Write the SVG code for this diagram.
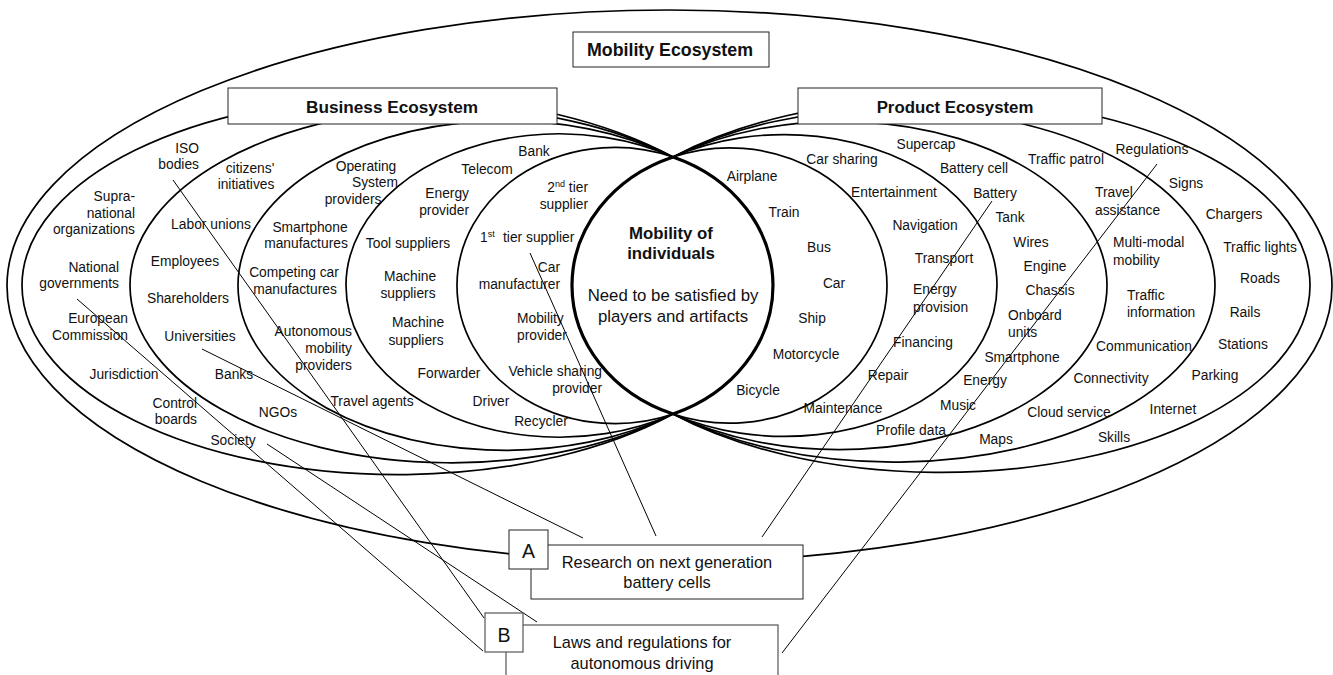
<svg xmlns="http://www.w3.org/2000/svg" width="1333" height="675" viewBox="0 0 1333 675">
  <style>
    .ring { fill: none; stroke: #000; stroke-width: 1.7; }
    .lens { fill: none; stroke: #000; stroke-width: 3.2; }
    .frame { fill: #fff; stroke: #222; stroke-width: 1; }
    .frame-b { fill: #fff; stroke: #555; stroke-width: 1.2; }
    .link { stroke: #000; stroke-width: 1; fill: none; }
    text { font-family: "Liberation Sans", Arial, sans-serif; fill: #111; }
    .t { font-size: 13.8px; }
    .m { text-anchor: middle; }
    .e { text-anchor: end; }
    .title { font-weight: bold; text-anchor: middle; }
    .core { font-size: 16.8px; text-anchor: middle; }
    .sup { font-size: 9px; }
    .tag { font-size: 19.5px; text-anchor: middle; }
    .note { font-size: 16.4px; text-anchor: middle; }
  </style>

  <!-- outer ring: whole mobility ecosystem -->
  <g id="mobility-ecosystem">
    <ellipse class="ring" cx="669.5" cy="286" rx="662.5" ry="276"/>
  </g>

  <!-- business rings: left-hand arcs meet at the two lens tips -->
  <g id="business-rings">
    <path class="ring" d="M673,157 A375.5,189.11 0 1 0 673,414"/>
    <path class="ring" d="M673,157 A321.5,177.29 0 1 0 673,414"/>
    <path class="ring" d="M673,157 A267.5,164.81 0 1 0 673,414"/>
    <path class="ring" d="M673,157 A213.5,151.72 0 1 0 673,414"/>
    <path class="ring" d="M673,157 A158,138.15 0 1 0 673,414"/>
  </g>

  <!-- product rings: right-hand arcs -->
  <g id="product-rings">
    <path class="ring" d="M673,157 A157.5,137.66 0 1 1 673,414"/>
    <path class="ring" d="M673,157 A212.5,150.95 0 1 1 673,414"/>
    <path class="ring" d="M673,157 A267.5,164.18 0 1 1 673,414"/>
    <path class="ring" d="M673,157 A321.5,176.57 0 1 1 673,414"/>
    <path class="ring" d="M673,157 A369,186.94 0 1 1 673,414"/>
  </g>

  <!-- shared lens in the middle -->
  <g id="core">
    <path class="lens" d="M673,157 A158,138.15 0 0 1 673,414"/>
    <path class="lens" d="M673,157 A157.5,137.66 0 0 0 673,414"/>
    <text class="core" x="671" y="239" font-weight="bold">Mobility of</text>
    <text class="core" x="671" y="259" font-weight="bold">individuals</text>
    <text class="core" x="673" y="301">Need to be satisfied by</text>
    <text class="core" x="673" y="322">players and artifacts</text>
  </g>

  <!-- title boxes -->
  <g id="mobility-title">
    <rect class="frame" x="573" y="32" width="196" height="35"/>
    <text class="title" x="670" y="56" font-size="17.8px">Mobility Ecosystem</text>
  </g>
  <g id="business-title">
    <rect class="frame" x="228" y="88" width="329" height="36"/>
    <text class="title" x="392" y="113" font-size="17.2px">Business Ecosystem</text>
  </g>
  <g id="product-title">
    <rect class="frame" x="798" y="88" width="304" height="36"/>
    <text class="title" x="955" y="113" font-size="16.8px">Product Ecosystem</text>
  </g>

  <!-- business ring 5 -->
  <g id="business-ring-5" class="t">
    <text class="e" x="199" y="153">ISO</text>
    <text class="e" x="199" y="169">bodies</text>
    <text class="e" x="135" y="201">Supra-</text>
    <text class="e" x="135" y="218">national</text>
    <text class="e" x="135" y="234">organizations</text>
    <text class="e" x="119" y="272">National</text>
    <text class="e" x="119" y="288">governments</text>
    <text class="e" x="128" y="323">European</text>
    <text class="e" x="128" y="340">Commission</text>
    <text class="m" x="124" y="379">Jurisdiction</text>
    <text class="e" x="197" y="408">Control</text>
    <text class="e" x="197" y="424">boards</text>
    <text class="m" x="233" y="445">Society</text>
  </g>

  <!-- business ring 4 -->
  <g id="business-ring-4" class="t">
    <text class="m" x="250" y="173">citizens'</text>
    <text class="m" x="246" y="189">initiatives</text>
    <text class="m" x="211" y="229">Labor unions</text>
    <text class="m" x="185" y="266">Employees</text>
    <text class="m" x="188" y="303">Shareholders</text>
    <text class="m" x="200" y="341">Universities</text>
    <text class="m" x="234" y="379">Banks</text>
    <text class="m" x="278" y="417">NGOs</text>
  </g>

  <!-- business ring 3 -->
  <g id="business-ring-3" class="t">
    <text class="m" x="366" y="171">Operating</text>
    <text class="m" x="375" y="187">System</text>
    <text class="m" x="353" y="204">providers</text>
    <text class="m" x="310" y="232">Smartphone</text>
    <text class="m" x="306" y="248">manufactures</text>
    <text class="m" x="294" y="277">Competing car</text>
    <text class="m" x="295" y="294">manufactures</text>
    <text class="e" x="352" y="336">Autonomous</text>
    <text class="e" x="352" y="353">mobility</text>
    <text class="e" x="352" y="370">providers</text>
    <text class="m" x="372" y="406">Travel agents</text>
  </g>

  <!-- business ring 2 -->
  <g id="business-ring-2" class="t">
    <text class="m" x="534" y="156">Bank</text>
    <text class="m" x="487" y="174">Telecom</text>
    <text class="e" x="469" y="198">Energy</text>
    <text class="e" x="469" y="215">provider</text>
    <text class="m" x="408" y="248">Tool suppliers</text>
    <text class="m" x="410" y="281">Machine</text>
    <text class="m" x="408" y="298">suppliers</text>
    <text class="m" x="418" y="327">Machine</text>
    <text class="m" x="416" y="345">suppliers</text>
    <text class="m" x="449" y="378">Forwarder</text>
    <text class="m" x="491" y="406">Driver</text>
    <text class="m" x="541" y="426">Recycler</text>
  </g>

  <!-- business ring 1 -->
  <g id="business-ring-1" class="t">
    <text class="e" x="588" y="192">2<tspan class="sup" dy="-5">nd</tspan><tspan dy="5"> tier</tspan></text>
    <text class="e" x="588" y="209">supplier</text>
    <text x="480" y="242">1<tspan class="sup" dy="-5">st</tspan><tspan dy="5" x="503">tier supplier</tspan></text>
    <text class="e" x="560" y="272">Car</text>
    <text class="e" x="560" y="289">manufacturer</text>
    <text x="517" y="323">Mobility</text>
    <text x="517" y="340">provider</text>
    <text class="e" x="602" y="376">Vehicle sharing</text>
    <text class="e" x="602" y="393">provider</text>
  </g>

  <!-- product ring 1 -->
  <g id="product-ring-1" class="t">
    <text class="m" x="752" y="181">Airplane</text>
    <text class="m" x="784" y="217">Train</text>
    <text class="m" x="819" y="252">Bus</text>
    <text class="m" x="834" y="288">Car</text>
    <text class="m" x="812" y="323">Ship</text>
    <text class="m" x="806" y="359">Motorcycle</text>
    <text class="m" x="758" y="395">Bicycle</text>
  </g>

  <!-- product ring 2 -->
  <g id="product-ring-2" class="t">
    <text class="m" x="842" y="164">Car sharing</text>
    <text class="m" x="894" y="197">Entertainment</text>
    <text class="m" x="925" y="230">Navigation</text>
    <text class="m" x="944" y="263">Transport</text>
    <text x="913" y="294">Energy</text>
    <text x="913" y="312">provision</text>
    <text class="m" x="923" y="347">Financing</text>
    <text class="m" x="888" y="380">Repair</text>
    <text class="m" x="843" y="413">Maintenance</text>
  </g>

  <!-- product ring 3 -->
  <g id="product-ring-3" class="t">
    <text class="m" x="926" y="149">Supercap</text>
    <text class="m" x="974" y="173">Battery cell</text>
    <text class="m" x="995" y="198">Battery</text>
    <text class="m" x="1010" y="222">Tank</text>
    <text class="m" x="1031" y="247">Wires</text>
    <text class="m" x="1045" y="271">Engine</text>
    <text class="m" x="1050" y="295">Chassis</text>
    <text x="1008" y="320">Onboard</text>
    <text x="1008" y="337">units</text>
    <text class="m" x="1022" y="362">Smartphone</text>
    <text class="m" x="985" y="385">Energy</text>
    <text class="m" x="958" y="410">Music</text>
    <text class="m" x="911" y="435">Profile data</text>
  </g>

  <!-- product ring 4 -->
  <g id="product-ring-4" class="t">
    <text class="m" x="1066" y="164">Traffic patrol</text>
    <text x="1095" y="197">Travel</text>
    <text x="1095" y="215">assistance</text>
    <text x="1113" y="247">Multi-modal</text>
    <text x="1113" y="265">mobility</text>
    <text x="1127" y="300">Traffic</text>
    <text x="1127" y="317">information</text>
    <text class="m" x="1144" y="351">Communication</text>
    <text class="m" x="1111" y="383">Connectivity</text>
    <text class="m" x="1069" y="417">Cloud service</text>
    <text class="m" x="996" y="444">Maps</text>
  </g>

  <!-- product ring 5 -->
  <g id="product-ring-5" class="t">
    <text class="m" x="1152" y="154">Regulations</text>
    <text class="m" x="1186" y="188">Signs</text>
    <text class="m" x="1234" y="219">Chargers</text>
    <text class="m" x="1260" y="252">Traffic lights</text>
    <text class="m" x="1260" y="283">Roads</text>
    <text class="m" x="1245" y="317">Rails</text>
    <text class="m" x="1243" y="349">Stations</text>
    <text class="m" x="1215" y="380">Parking</text>
    <text class="m" x="1173" y="414">Internet</text>
    <text class="m" x="1114" y="442">Skills</text>
  </g>

  <!-- connectors from items to the two example cases -->
  <g id="connectors">
    <line class="link" x1="173" y1="180" x2="484" y2="618"/>
    <line class="link" x1="77" y1="299" x2="483" y2="651"/>
    <line class="link" x1="202" y1="349" x2="583" y2="538"/>
    <line class="link" x1="267" y1="444" x2="537" y2="622"/>
    <line class="link" x1="530" y1="253" x2="656" y2="536"/>
    <line class="link" x1="992" y1="201" x2="762" y2="537"/>
    <line class="link" x1="1157" y1="164" x2="782" y2="653"/>
  </g>

  <!-- case A -->
  <g id="case-a">
    <rect class="frame" x="531" y="545" width="272" height="54"/>
    <rect class="frame" x="509" y="530" width="39" height="39"/>
    <text class="tag" x="528.5" y="557.5">A</text>
    <text class="note" x="667" y="568">Research on next generation</text>
    <text class="note" x="667" y="588">battery cells</text>
  </g>

  <!-- case B -->
  <g id="case-b">
    <rect class="frame-b" x="506" y="625" width="272" height="65"/>
    <rect class="frame-b" x="485" y="613" width="38" height="39"/>
    <text class="tag" x="504" y="641.5">B</text>
    <text class="note" x="642" y="648">Laws and regulations for</text>
    <text class="note" x="642" y="669">autonomous driving</text>
  </g>
</svg>
